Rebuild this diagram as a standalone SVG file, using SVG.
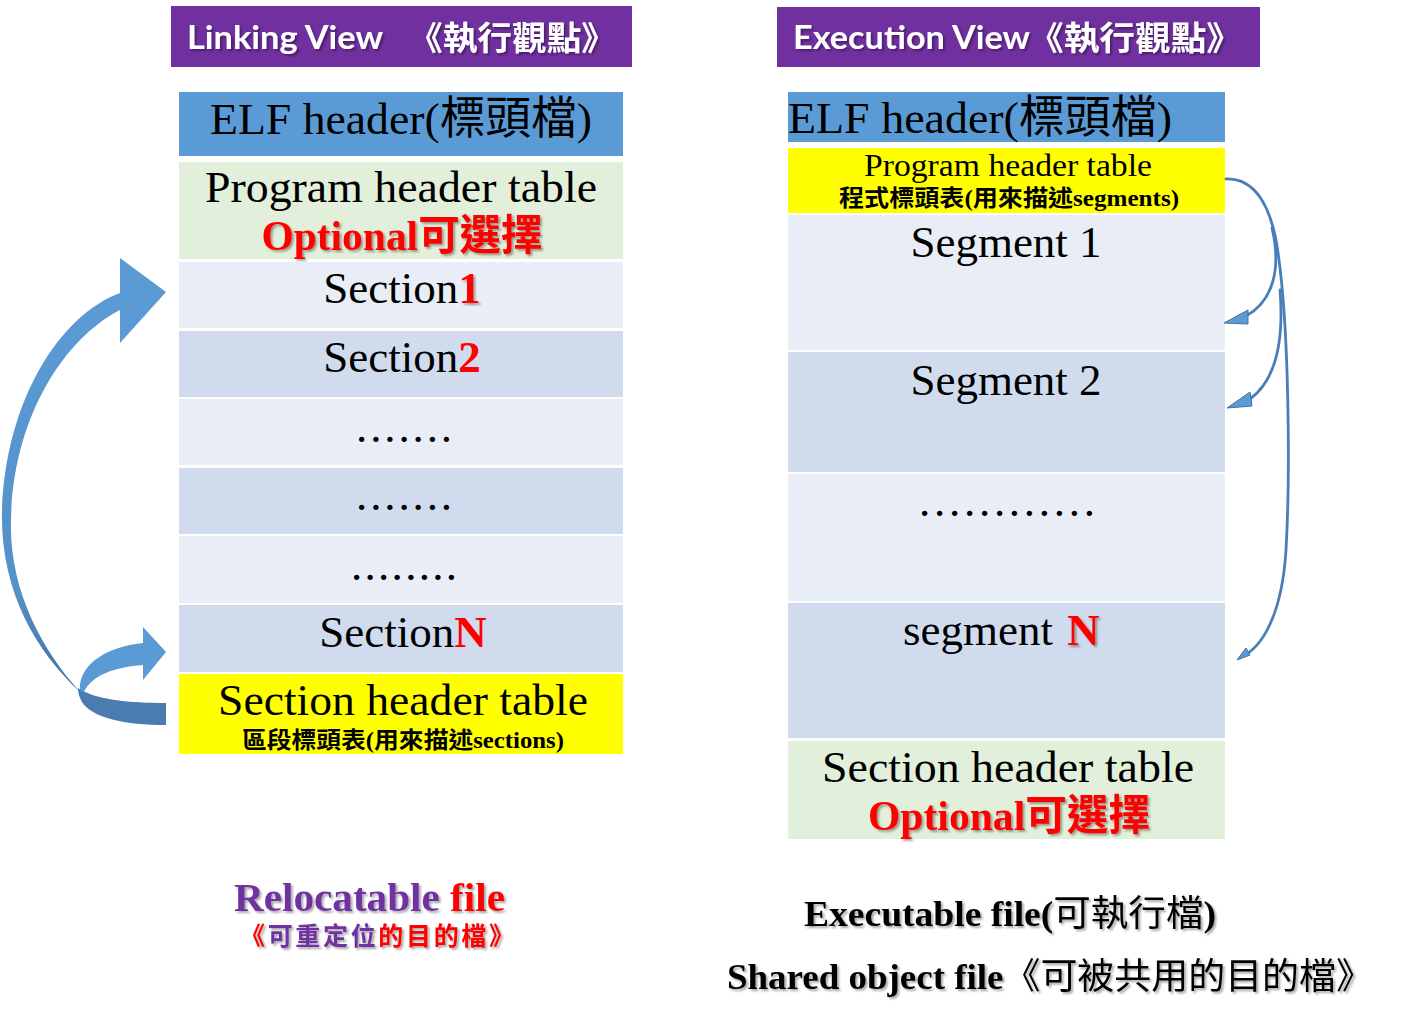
<svg xmlns="http://www.w3.org/2000/svg" width="1411" height="1025" viewBox="0 0 1411 1025">
<defs>
<style>
.ser{font-family:'Liberation Serif','Noto Sans CJK TC',serif;fill:#000}
.ttl{font-family:Lato,'Noto Sans CJK TC',sans-serif;font-weight:bold;fill:#fff}
.cjk{font-family:'Noto Sans CJK TC',sans-serif}
.red{fill:#ff0000}
.pur{fill:#7030a0}
.b{font-weight:bold}
.blue{fill:#5b9bd5}
.grn{fill:#e2efda}
.lt{fill:#e9edf5}
.dk{fill:#d0dcee}
.yel{fill:#ffff00}
.thin{fill:none;stroke:#4a7ebb;stroke-width:2.8;stroke-linecap:round}
.thinhead{fill:#5b9bd5;stroke:#41719c;stroke-width:1}
</style>
<filter id="sh" x="-10%" y="-20%" width="130%" height="150%">
<feDropShadow dx="2" dy="2" stdDeviation="1" flood-color="#000" flood-opacity="0.35"/>
</filter>
<linearGradient id="bg" x1="0" y1="0" x2="0" y2="1">
<stop offset="0" stop-color="#5b9bd5"/>
<stop offset="0.75" stop-color="#5590c8"/>
<stop offset="1" stop-color="#41719c"/>
</linearGradient>
</defs>
<rect width="1411" height="1025" fill="#fff"/>

<g id="title-left">
<rect x="171" y="6" width="461" height="61" fill="#7030a0"/>
<text class="ttl" x="187" y="49" font-size="33" textLength="196" lengthAdjust="spacingAndGlyphs" filter="url(#sh)">Linking View</text>
<text class="ttl cjk" x="408" y="50" font-size="33" font-weight="normal" textLength="208" lengthAdjust="spacingAndGlyphs" filter="url(#sh)">《執行觀點》</text>
</g>
<g id="title-right">
<rect x="777" y="7" width="483" height="60" fill="#7030a0"/>
<text class="ttl" x="793" y="49" font-size="33" textLength="237" lengthAdjust="spacingAndGlyphs" filter="url(#sh)">Execution View</text>
<text class="ttl cjk" x="1028" y="50" font-size="33" font-weight="normal" textLength="214" lengthAdjust="spacingAndGlyphs" filter="url(#sh)">《執行觀點》</text>
</g>

<g id="left-elf"><rect class="blue" x="179" y="92" width="444" height="64"/>
<text class="ser" x="401" y="134" font-size="45" text-anchor="middle" textLength="382" lengthAdjust="spacingAndGlyphs">ELF header(標頭檔)</text></g>
<g id="left-pht"><rect class="grn" x="179" y="162" width="444" height="97"/>
<text class="ser" x="401" y="202" font-size="45" text-anchor="middle" textLength="392" lengthAdjust="spacingAndGlyphs">Program header table</text>
<text class="ser red b" x="402" y="250" font-size="42" text-anchor="middle" textLength="281" lengthAdjust="spacingAndGlyphs" filter="url(#sh)">Optional可選擇</text></g>
<g id="left-s1"><rect class="lt" x="179" y="262" width="444" height="66"/>
<text class="ser" x="402" y="303" font-size="45" text-anchor="middle">Section<tspan class="red b" filter="url(#sh)">1</tspan></text></g>
<g id="left-s2"><rect class="dk" x="179" y="331" width="444" height="66"/>
<text class="ser" x="402" y="372" font-size="45" text-anchor="middle">Section<tspan class="red b">2</tspan></text></g>
<g id="left-d1"><rect class="lt" x="179" y="399" width="444" height="66"/>
<text class="ser" x="404" y="442" font-size="45" text-anchor="middle" textLength="96" lengthAdjust="spacing">.......</text></g>
<g id="left-d2"><rect class="dk" x="179" y="468" width="444" height="66"/>
<text class="ser" x="404" y="510" font-size="45" text-anchor="middle" textLength="96" lengthAdjust="spacing">.......</text></g>
<g id="left-d3"><rect class="lt" x="179" y="536" width="444" height="67"/>
<text class="ser" x="404" y="580" font-size="45" text-anchor="middle" textLength="106" lengthAdjust="spacing">........</text></g>
<g id="left-sn"><rect class="dk" x="179" y="605" width="444" height="67"/>
<text class="ser" x="403" y="647" font-size="45" text-anchor="middle">Section<tspan class="red b">N</tspan></text></g>
<g id="left-sht"><rect class="yel" x="179" y="674" width="444" height="80"/>
<text class="ser" x="403" y="715" font-size="45" text-anchor="middle" textLength="370" lengthAdjust="spacingAndGlyphs">Section header table</text>
<text class="ser b" x="403" y="748" font-size="23" text-anchor="middle" textLength="322" lengthAdjust="spacingAndGlyphs">區段標頭表(用來描述sections)</text></g>

<g id="right-elf"><rect class="blue" x="788" y="92" width="437" height="50"/>
<text class="ser" x="788" y="133" font-size="45" textLength="384" lengthAdjust="spacingAndGlyphs">ELF header(標頭檔)</text></g>
<g id="right-pht"><rect class="yel" x="788" y="148" width="437" height="65"/>
<text class="ser" x="1008" y="176" font-size="32" text-anchor="middle" textLength="288" lengthAdjust="spacingAndGlyphs">Program header table</text>
<text class="ser b" x="1009" y="206" font-size="23" text-anchor="middle" textLength="340" lengthAdjust="spacingAndGlyphs">程式標頭表(用來描述segments)</text></g>
<g id="right-seg1"><rect class="lt" x="788" y="215" width="437" height="135"/>
<text class="ser" x="1006" y="257" font-size="45" text-anchor="middle">Segment 1</text></g>
<g id="right-seg2"><rect class="dk" x="788" y="352" width="437" height="120"/>
<text class="ser" x="1006" y="395" font-size="45" text-anchor="middle">Segment 2</text></g>
<g id="right-dots"><rect class="lt" x="788" y="474" width="437" height="127"/>
<text class="ser" x="1007" y="516" font-size="45" text-anchor="middle" textLength="176" lengthAdjust="spacing">............</text></g>
<g id="right-segn"><rect class="dk" x="788" y="603" width="437" height="135"/>
<text class="ser" x="903" y="645" font-size="45">segment<tspan class="red b" x="1067" filter="url(#sh)">N</tspan></text></g>
<g id="right-sht"><rect class="grn" x="788" y="741" width="437" height="98"/>
<text class="ser" x="1008" y="782" font-size="45" text-anchor="middle" textLength="372" lengthAdjust="spacingAndGlyphs">Section header table</text>
<text class="ser red b" x="1009" y="830" font-size="42" text-anchor="middle" textLength="282" lengthAdjust="spacingAndGlyphs" filter="url(#sh)">Optional可選擇</text></g>

<g id="connectors">
<path d="M120,293 C60,315 6,400 2,510 C0,590 35,650 80,692 C42,650 9,590 11,520 C13,420 62,340 120,310 Z" fill="url(#bg)"/>
<polygon points="120,258 166,292 120,343" class="blue"/>
<path d="M78,688 C95,700 130,703 166,703 L166,725 C125,725 92,718 82,702 C79,697 78,692 78,688 Z" fill="#4a7cb0"/>
<path d="M80,690 C78,668 102,647 143,643 L143,627 L166,652 L143,680 L143,665 C115,667 92,675 84,692 Z" class="blue"/>
<path class="thin" d="M1226,179 C1252,178 1268,200 1276,240 C1290,320 1290,480 1286,550 C1282,615 1262,648 1241,657"/>
<path class="thin" d="M1272,228 C1282,270 1272,302 1246,316"/>
<path class="thin" d="M1280,290 C1284,340 1276,380 1250,399"/>
<polygon class="thinhead" points="1224,323 1248,310 1248,324"/>
<polygon class="thinhead" points="1227,408 1250,392 1252,406"/>
<polygon class="thinhead" points="1237,660 1246,648 1250,655"/>
</g>

<g id="label-relocatable">
<text class="ser b" x="234" y="911" font-size="40" textLength="271" lengthAdjust="spacingAndGlyphs" filter="url(#sh)"><tspan class="pur">Relocatable </tspan><tspan class="red">file</tspan></text>
<text class="ser b" x="240" y="945" font-size="25" textLength="274" lengthAdjust="spacing" filter="url(#sh)"><tspan class="red">《</tspan><tspan class="pur">可重定位</tspan><tspan class="red">的目的檔》</tspan></text>
</g>
<g id="label-executable">
<text class="ser b" x="804" y="926" font-size="36" textLength="412" lengthAdjust="spacingAndGlyphs" filter="url(#sh)">Executable file(<tspan font-weight="normal">可執行檔</tspan>)</text>
<text class="ser b" x="727" y="989" font-size="36" textLength="646" lengthAdjust="spacingAndGlyphs" filter="url(#sh)">Shared object file<tspan font-weight="normal">《可被共用的目的檔》</tspan></text>
</g>
</svg>
